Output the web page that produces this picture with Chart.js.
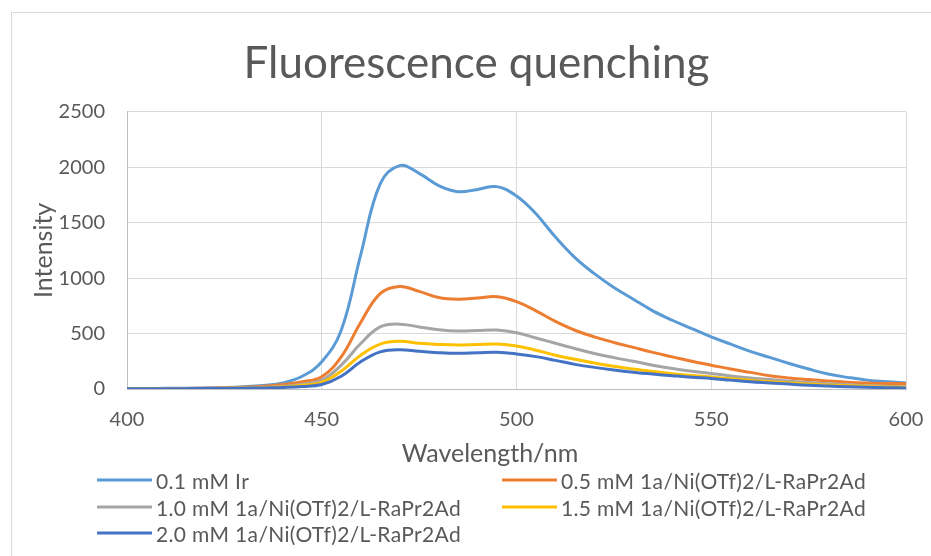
<!DOCTYPE html>
<html>
<head>
<meta charset="utf-8">
<title>Fluorescence quenching</title>
<script src="https://cdn.jsdelivr.net/npm/chart.js@4/dist/chart.umd.min.js"></script>
<style>
  html, body { margin: 0; padding: 0; background: #fff; }
  #wrap { position: relative; width: 931px; height: 556px; overflow: hidden; }
  #frame { position: absolute; left: 11px; top: 12px; width: 940px; height: 560px;
           border-left: 1px solid #d9d9d9; border-top: 1px solid #d9d9d9; }
  #chart { position: absolute; left: 0; top: 0; }
  #xtitle { position: absolute; left: 490px; top: 452px; transform: translate(-50%, -50%);
            font-family: Lato, sans-serif; font-size: 25px; color: #595959; white-space: nowrap; }
  #legend { position: absolute; left: 0; top: 0; font-family: Lato, sans-serif; font-size: 21px;
            letter-spacing: 0.35px; color: #595959; }
  .item { position: absolute; display: flex; align-items: center; white-space: nowrap; transform: translateY(-50%); }
  .swatch { width: 55px; height: 3px; margin-right: 4px; }
</style>
</head>
<body>
<div id="wrap">
  <div id="frame"></div>
  <canvas id="chart" width="931" height="556"></canvas>
  <div id="xtitle"></div>
  <div id="legend"></div>
</div>
<script>
const wavelengths = [400, 405, 410, 415, 420, 425, 430, 435, 440, 445, 450, 455, 460, 465, 470, 475, 480, 485, 490, 495,
  500, 505, 510, 515, 520, 525, 530, 535, 540, 545, 550, 555, 560, 565, 570, 575, 580, 585, 590, 595, 600];

const ir01 = [5, 5, 6, 7, 9, 13, 20, 32, 55, 115, 245, 530, 1210, 1850, 2015, 1945, 1835, 1780, 1800, 1825,
  1740, 1580, 1370, 1185, 1040, 915, 810, 705, 620, 545, 470, 405, 340, 285, 230, 180, 135, 105, 80, 65, 55];
const mM05 = [3, 3, 4, 5, 7, 10, 15, 24, 40, 65, 110, 290, 600, 860, 925, 880, 825, 810, 820, 832,
  788, 705, 610, 530, 470, 420, 375, 330, 290, 250, 215, 180, 150, 120, 100, 85, 72, 62, 55, 50, 48];
const mM10 = [2, 2, 3, 4, 5, 7, 10, 15, 24, 42, 80, 215, 410, 560, 585, 560, 535, 523, 528, 532,
  508, 460, 412, 365, 320, 283, 250, 215, 185, 160, 140, 118, 100, 85, 70, 58, 48, 38, 30, 25, 20];
const mM15 = [2, 2, 3, 3, 4, 6, 8, 12, 19, 33, 60, 160, 305, 405, 430, 412, 402, 397, 402, 405,
  388, 350, 305, 268, 235, 205, 180, 158, 138, 122, 108, 92, 78, 65, 55, 45, 37, 30, 24, 19, 15];
const mM20 = [2, 2, 2, 3, 4, 5, 7, 10, 14, 22, 40, 115, 245, 335, 355, 340, 328, 322, 327, 331,
  316, 292, 258, 222, 195, 172, 152, 135, 120, 106, 95, 80, 66, 55, 44, 34, 27, 20, 15, 12, 10];

const seriesNames = ['0.1 mM Ir', '0.5 mM 1a/Ni(OTf)2/L-RaPr2Ad', '1.0 mM 1a/Ni(OTf)2/L-RaPr2Ad',
  '1.5 mM 1a/Ni(OTf)2/L-RaPr2Ad', '2.0 mM 1a/Ni(OTf)2/L-RaPr2Ad'];
const seriesValues = [ir01, mM05, mM10, mM15, mM20];
const seriesColors = ['#5b9bd5', '#ed7d31', '#a5a5a5', '#ffc000', '#4472c4'];

const xTicks = [400, 450, 500, 550, 600];
const yTicks = [0, 500, 1000, 1500, 2000, 2500];

const textColor = '#595959';
const font = 'Lato';

const datasets = seriesNames.map((name, i) => ({
  label: name,
  data: wavelengths.map((w, j) => ({ x: w, y: seriesValues[i][j] })),
  borderColor: seriesColors[i],
  backgroundColor: seriesColors[i],
  borderWidth: 3,
  pointRadius: 0,
  tension: 0.4,
  order: seriesNames.length - i
}));

const ctx = document.getElementById('chart').getContext('2d');
new Chart(ctx, {
  type: 'line',
  data: { datasets },
  options: {
    responsive: false,
    animation: false,
    layout: { padding: { left: 34, right: 12, top: 0, bottom: 87 } },
    plugins: {
      legend: { display: false },
      tooltip: { enabled: false },
      title: {
        display: true,
        text: 'Fluorescence quenching',
        color: textColor,
        font: { family: font, size: 44, weight: 'normal' },
        padding: { top: 37, bottom: 22 }
      }
    },
    scales: {
      x: {
        type: 'linear',
        min: xTicks[0],
        max: xTicks[xTicks.length - 1],
        afterBuildTicks: s => { s.ticks = xTicks.map(v => ({ value: v })); },
        afterFit: s => { s.height = 80; s.paddingRight = 25; },
        ticks: { color: textColor, font: { family: font, size: 20 }, padding: 19, maxRotation: 0,
                 callback: v => String(v) },
        grid: { color: '#d9d9d9', drawTicks: false },
        border: { color: '#bfbfbf' },
        title: { display: false }
      },
      y: {
        min: yTicks[0],
        max: yTicks[yTicks.length - 1],
        afterBuildTicks: s => { s.ticks = yTicks.map(v => ({ value: v })); },
        afterFit: s => { s.width = 93; },
        ticks: { color: textColor, font: { family: font, size: 20 }, padding: 22,
                 callback: v => String(v) },
        grid: { color: '#d9d9d9', drawTicks: false },
        border: { color: '#bfbfbf' },
        title: { display: true, text: 'Intensity', color: textColor,
                 font: { family: font, size: 25, lineHeight: 0.8 }, padding: { top: 0, bottom: 0 } }
      }
    }
  }
});

// x axis title sits a little left of the plot centre, as in the original
document.getElementById('xtitle').textContent = 'Wavelength/nm';

// legend in two columns under the axis
const legend = document.getElementById('legend');
const colX = [97, 502];
const rowY = [480, 507, 533];
seriesNames.forEach((name, i) => {
  const item = document.createElement('div');
  item.className = 'item';
  item.style.left = colX[i % 2] + 'px';
  item.style.top = rowY[Math.floor(i / 2)] + 'px';
  item.innerHTML = `<span class="swatch" style="background:${seriesColors[i]}"></span><span>${name}</span>`;
  legend.appendChild(item);
});
</script>
</body>
</html>
